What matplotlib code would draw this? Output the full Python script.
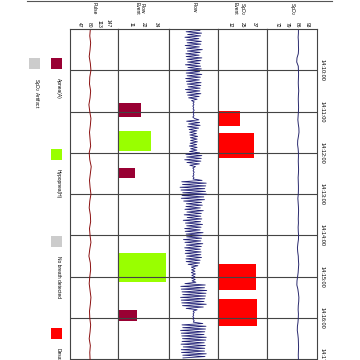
import numpy as np
import matplotlib
matplotlib.use('Agg')
import matplotlib.pyplot as plt
from matplotlib.patches import Rectangle
from matplotlib.lines import Line2D

plt.rcParams['font.family'] = ['Liberation Sans', 'DejaVu Sans']

# seconds from 14:09:00
time_ticks = [60, 120, 180, 240, 300, 360, 420, 480]
time_labels = ['14:10:00', '14:11:00', '14:12:00', '14:13:00',
               '14:14:00', '14:15:00', '14:16:00', '14:17:00']

# scored events: start (s) and duration (s), bar length = duration
apnea_start = [108, 202, 408]
apnea_dur = [20, 15, 17]
hypopnea_start = [148, 326]
hypopnea_dur = [29, 42]
desat_start = [119, 151, 341, 392]
desat_dur = [22, 37, 39, 40]

# pulse, one value every 10 s
pulse_step = 10
pulse = [84, 82, 85, 83, 80, 84, 86, 82, 81, 85,
         83, 79, 82, 86, 84, 81, 83, 85, 80, 82,
         87, 84, 81, 83, 86, 82, 80, 84, 85, 81,
         83, 86, 82, 79, 84, 85, 82, 80, 83, 86,
         84, 81, 82, 85, 83, 80, 84, 82, 83]

# spo2, one value every 6 s
spo2_step = 6
spo2 = [87.0, 87.0, 86.8, 87.0, 87.0, 87.1, 86.9, 86.0, 85.8, 86.9,
        87.0, 87.1, 87.0, 86.9, 87.0, 87.2, 87.0, 86.9, 87.0, 87.1,
        87.0, 86.8, 86.6, 86.9, 87.3, 87.4, 87.0, 86.5, 86.4, 86.8,
        87.0, 87.0, 86.9, 87.0, 87.1, 87.0, 86.8, 86.9, 87.0, 87.0,
        86.9, 86.6, 86.8, 87.0, 87.1, 87.0, 86.9, 87.0, 86.8, 86.9,
        87.1, 87.0, 86.6, 86.3, 86.5, 86.9, 87.0, 87.2, 87.0, 86.8,
        86.4, 86.0, 85.9, 86.6, 87.0, 87.3, 87.2, 86.9, 86.8, 87.0,
        86.9, 86.7, 86.3, 86.2, 86.6, 86.9, 87.0, 87.1, 87.0, 86.9,
        87.0]

# nasal flow, one value every 2 s starting at 2 s
flow_step = 2
flow = [0.26, -0.30, 0.33, -0.24, 0.29, -0.35, 0.22, -0.28, 0.32, -0.26,
        0.30, -0.34, 0.24, -0.29, 0.36, -0.25, 0.27, -0.31, 0.23, -0.30,
        0.34, -0.27, 0.30, -0.24, 0.26, -0.33, 0.29, -0.23, 0.32, -0.28,
        0.25, -0.30, 0.34, -0.26, 0.28, -0.32, 0.24, -0.29, 0.31, -0.26,
        0.30, -0.22, 0.27, -0.33, 0.26, -0.28, 0.30, -0.24, 0.23, -0.20,
        0.15, -0.08,
        0.03, -0.02, 0.02, -0.03, 0.01, -0.02, 0.03, -0.02, 0.02, -0.01,
        0.02, -0.03, 0.04,
        0.22, -0.28, 0.25, -0.20, 0.27, -0.24, 0.21, -0.18,
        0.14, -0.16, 0.12, -0.15, 0.17, -0.13, 0.15, -0.12, 0.16, -0.14,
        0.13, -0.17, 0.15, -0.12, 0.14, -0.16,
        0.25, -0.31, 0.34, -0.28, 0.32, -0.36, 0.30, -0.27, 0.24, -0.15, 0.08,
        -0.03, 0.02, -0.02, 0.03, -0.01, 0.02, -0.03, 0.02, -0.02,
        0.35, -0.48, 0.52, -0.45, 0.50, -0.55, 0.46, -0.51, 0.49, -0.44,
        0.53, -0.47, 0.42, -0.50, 0.45, -0.40,
        0.33, -0.29, 0.36, -0.31, 0.28, -0.35, 0.40, -0.27, 0.32, -0.38,
        0.30, -0.26, 0.34, -0.42, 0.29, -0.33, 0.37, -0.28, 0.31, -0.36,
        0.27, -0.34, 0.39, -0.30, 0.35, -0.28, 0.33, -0.41, 0.30, -0.35,
        0.38, -0.29, 0.32, -0.36, 0.28, -0.33, 0.31,
        -0.34, 0.30, -0.28, 0.33, -0.31, 0.27, -0.30, 0.25, -0.22, 0.18,
        -0.09, 0.07, -0.08, 0.06, -0.09, 0.08, -0.07, 0.06, -0.08, 0.07,
        -0.06, 0.10,
        -0.35, 0.48, -0.52, 0.45, -0.50, 0.54, -0.47, 0.51, -0.44, 0.49,
        -0.53, 0.46, -0.50, 0.43, -0.48, 0.52, -0.45, 0.40, -0.30, 0.15,
        -0.02, 0.03, -0.02, 0.01, -0.03, 0.02, -0.02, 0.03, -0.01,
        0.38, -0.47, 0.51, -0.44, 0.49, -0.53, 0.46, -0.50, 0.43, -0.48,
        0.52, -0.45, 0.50, -0.47, 0.44, -0.51, 0.48, -0.42, 0.46, -0.50,
        0.45, -0.49, 0.52, -0.44, 0.47, -0.43]

pulse_ticks = [46.67, 80, 113.33, 146.67]
pulse_ticklabels = ['47', '80', '113', '147']
fe_ticks = [11.25, 22.5, 33.75]
fe_ticklabels = ['11', '22', '34']
se_ticks = [12.5, 25, 37.5]
se_ticklabels = ['12', '25', '37']
spo2_ticks = [72, 79, 86, 93]
spo2_ticklabels = ['72', '79', '86', '93']

legend_names = ['Apnea(A)', 'Hypopnea(H)', 'No breath detected', 'Desaturation', 'SpO$_2$ Artifact']
legend_colors = ['#990033', '#99ff00', '#cccccc', '#ff0000', '#cccccc']

C_APNEA, C_HYPO, C_GRAY, C_DESAT = legend_colors[:4]

W = 360.0
fig = plt.figure(figsize=(3.6, 3.6), dpi=100)
fig.patch.set_facecolor('white')


def panel(x0, x1):
    ax = fig.add_axes([x0 / W, 0.0, (x1 - x0) / W, (W - 29) / W])
    ax.set_ylim(481, 0)
    ax.set_yticks(time_ticks)
    ax.yaxis.grid(True, color='#444444', lw=0.8)
    ax.tick_params(axis='y', length=0, labelleft=False)
    ax.xaxis.set_ticks_position('top')
    ax.tick_params(axis='x', length=0, pad=1, labelsize=3.5)
    for s in ax.spines.values():
        s.set_color('#444444')
        s.set_linewidth(0.8)
    return ax


def set_top(ax, ticks, labels):
    ax.set_xticks(ticks)
    ax.set_xticklabels(labels, rotation=-90)


ax_pulse = panel(70, 118)
ax_fe = panel(118, 169)
ax_flow = panel(169, 218)
ax_se = panel(218, 267)
ax_spo2 = panel(267, 317)

# pulse
ax_pulse.set_xlim(13.33, 180)
set_top(ax_pulse, pulse_ticks, pulse_ticklabels)
ax_pulse.plot(pulse, np.arange(len(pulse)) * pulse_step, color='#8b1010', lw=0.7)

# flow events
ax_fe.set_xlim(0, 45)
set_top(ax_fe, fe_ticks, fe_ticklabels)
ax_fe.barh(apnea_start, apnea_dur, height=apnea_dur, align='edge', color=C_APNEA)
ax_fe.barh(hypopnea_start, hypopnea_dur, height=hypopnea_dur, align='edge', color=C_HYPO)

# flow
ax_flow.set_xlim(-1, 1)
ax_flow.set_xticks([])
ax_flow.plot(flow, flow_step + np.arange(len(flow)) * flow_step, color='#1f1f75', lw=0.6)

# spo2 events
ax_se.set_xlim(0, 50)
set_top(ax_se, se_ticks, se_ticklabels)
ax_se.barh(desat_start, desat_dur, height=desat_dur, align='edge', color=C_DESAT)

# spo2
ax_spo2.set_xlim(65, 100)
set_top(ax_spo2, spo2_ticks, spo2_ticklabels)
ax_spo2.plot(spo2, np.arange(len(spo2)) * spo2_step, color='#2a2a6e', lw=0.7)
ax_spo2.tick_params(axis='y', labelright=True, labelsize=4, pad=2)
ax_spo2.set_yticklabels(time_labels, rotation=-90, va='center')

# panel names
names = [(94, 'Pulse'), (140, 'Flow\nEvent'), (194, 'Flow'), (240, 'SpO$_2$\nEvent'), (292, 'SpO$_2$')]
for xc, nm in names:
    fig.text(xc / W, 1 - 2 / W, nm, rotation=-90, ha='center', va='top', fontsize=3.5,
             linespacing=1.0)

fig.add_artist(Line2D([27 / W, 332 / W], [1 - 1 / W, 1 - 1 / W], color='#555555', lw=0.8))

# legend, rotated like the plot
leg_pos = [(51, 58), (51, 149), (51, 236), (51, 328), (29, 58)]
for (lx, ly), nm, col in zip(leg_pos, legend_names, legend_colors):
    fig.add_artist(Rectangle((lx / W, (W - ly - 11) / W), 11 / W, 11 / W,
                             transform=fig.transFigure, facecolor=col, edgecolor='none'))
    fig.text((lx + 7) / W, 1 - (ly + 20) / W, nm, rotation=-90, ha='center', va='top',
             fontsize=3.5)

fig.savefig('out.png', dpi=100, facecolor='white')
